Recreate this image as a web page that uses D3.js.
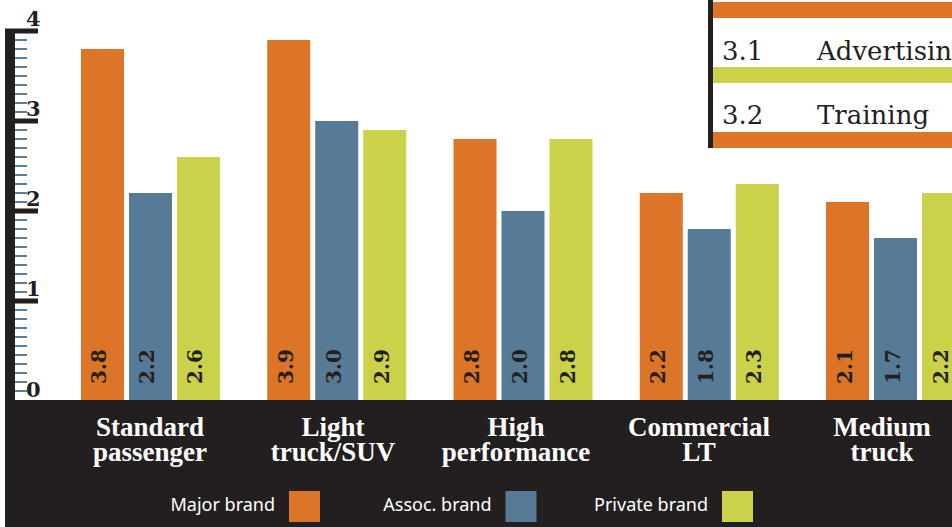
<!DOCTYPE html>
<html>
<head>
<meta charset="utf-8">
<script src="https://cdn.jsdelivr.net/npm/d3@7"></script>
<style>
  html, body { margin: 0; padding: 0; background: #fff; }
  svg { display: block; }
</style>
</head>
<body>
<svg id="chart" width="952" height="527"></svg>
<script>
// Average rating by tire category and brand type
const categories = ["Standard passenger", "Light truck/SUV", "High performance", "Commercial LT", "Medium truck"];
const categoryLines = [["Standard", "passenger"], ["Light", "truck/SUV"], ["High", "performance"], ["Commercial", "LT"], ["Medium", "truck"]];
const series = ["Major brand", "Assoc. brand", "Private brand"];
const majorBrand = [3.8, 3.9, 2.8, 2.2, 2.1];
const assocBrand = [2.2, 3.0, 2.0, 1.8, 1.7];
const privateBrand = [2.6, 2.9, 2.8, 2.3, 2.2];
const seriesColors = ["#dc7527", "#577a96", "#cbd24a"];
const yTicks = [0, 1, 2, 3, 4];
const noteCodes = ["3.1", "3.2"];
const noteItems = ["Advertising", "Training"];

const W = 952, H = 527;
const ink = "#231f20";
const bandTop = 400;
const numFont = "'DejaVu Serif', serif";

const svg = d3.select("#chart");
const seriesValues = [majorBrand, assocBrand, privateBrand];
const rows = categories.map((c, i) => ({
  cat: c,
  lines: categoryLines[i],
  values: series.map((s, j) => ({ series: s, value: seriesValues[j][i] }))
}));

const y = d3.scaleLinear().domain([0, 4]).range([391, 31]);
const x0 = d3.scaleBand().domain(categories).range([81, 965]).paddingInner(0.2539).paddingOuter(0);
const x1 = d3.scaleBand().domain(series).range([0, x0.bandwidth()]).paddingInner(0.104);
const xLabel = d3.scalePoint().domain(categories).range([150, 882]);
const color = d3.scaleOrdinal().domain(series).range(seriesColors);

// Bars
const groups = svg.append("g").selectAll("g").data(rows).join("g")
  .attr("transform", d => `translate(${x0(d.cat)},0)`);

groups.selectAll("rect").data(d => d.values).join("rect")
  .attr("x", d => x1(d.series))
  .attr("y", d => y(d.value))
  .attr("width", x1.bandwidth())
  .attr("height", d => bandTop - y(d.value))
  .attr("fill", d => color(d.series));

groups.selectAll("text").data(d => d.values).join("text")
  .attr("transform", d => `translate(${x1(d.series) + x1.bandwidth() / 2 + 4},384) rotate(-90)`)
  .attr("text-anchor", "start")
  .attr("font-family", numFont)
  .attr("font-weight", "bold")
  .attr("font-size", 20)
  .attr("fill", ink)
  .text(d => d3.format(".1f")(d.value));

// Dark footer band
svg.append("rect")
  .attr("x", 5).attr("y", bandTop)
  .attr("width", W - 5).attr("height", H - bandTop)
  .attr("fill", ink);

// Ruler-style y axis
const axis = svg.append("g");
axis.append("rect")
  .attr("x", 5).attr("y", y(4) - 2.5)
  .attr("width", 10).attr("height", bandTop - y(4) + 2.5)
  .attr("fill", ink);

const minorTicks = d3.range(0, 41).filter(k => k % 10 !== 0 || k === 0).map(k => k / 10);
axis.selectAll("line.minor").data(minorTicks).join("line")
  .attr("class", "minor")
  .attr("x1", 15).attr("x2", 27)
  .attr("y1", d => y(d)).attr("y2", d => y(d))
  .attr("stroke", "#5a7d9a").attr("stroke-width", 2);

axis.selectAll("rect.major").data(yTicks.filter(v => v > 0)).join("rect")
  .attr("class", "major")
  .attr("x", 15).attr("y", d => y(d) - 2.5)
  .attr("width", 23).attr("height", 5)
  .attr("fill", ink);

axis.selectAll("text").data(yTicks).join("text")
  .attr("x", 26)
  .attr("y", d => d === 0 ? bandTop - 3 : y(d) - 5)
  .attr("font-family", numFont)
  .attr("font-weight", "bold")
  .attr("font-size", 21)
  .attr("fill", ink)
  .text(d => d);

// Category labels
const cl = svg.append("g").selectAll("text").data(rows).join("text")
  .attr("text-anchor", "middle")
  .attr("font-family", "'Liberation Serif', serif")
  .attr("font-weight", "bold")
  .attr("font-size", 27)
  .attr("fill", "#fff");
cl.selectAll("tspan").data(d => d.lines.map(l => ({ l, x: xLabel(d.cat) }))).join("tspan")
  .attr("x", d => d.x)
  .attr("y", (d, i) => 436 + i * 25)
  .text(d => d.l);

// Legend
const lx = d3.scalePoint().domain(series).range([289, 722]);
const legend = svg.append("g").selectAll("g").data(series).join("g");
legend.append("rect")
  .attr("x", d => lx(d)).attr("y", 491)
  .attr("width", 31).attr("height", 31)
  .attr("fill", d => color(d));
legend.append("text")
  .attr("x", d => lx(d) - 14).attr("y", 511)
  .attr("text-anchor", "end")
  .attr("font-family", "'Noto Sans', sans-serif")
  .attr("font-size", 18)
  .attr("fill", "#fff")
  .text(d => d);

// Inset list (top right)
const note = svg.append("g");
note.append("rect").attr("x", 708).attr("y", 0).attr("width", W - 708).attr("height", 148).attr("fill", "#fff");
note.append("rect").attr("x", 708).attr("y", 0).attr("width", 5).attr("height", 148).attr("fill", ink);
const stripeColors = [seriesColors[0], seriesColors[2], seriesColors[0]];
note.selectAll("rect.stripe").data(stripeColors).join("rect")
  .attr("class", "stripe")
  .attr("x", 713).attr("y", (d, i) => 2 + i * 65)
  .attr("width", W - 713).attr("height", 16)
  .attr("fill", d => d);
note.selectAll("text.code").data(noteCodes).join("text")
  .attr("class", "code")
  .attr("x", 722).attr("y", (d, i) => 60 + i * 64)
  .attr("font-family", numFont).attr("font-size", 26).attr("fill", ink)
  .text(d => d);
note.selectAll("text.item").data(noteItems).join("text")
  .attr("class", "item")
  .attr("x", 817).attr("y", (d, i) => 60 + i * 64)
  .attr("font-family", numFont).attr("font-size", 26).attr("fill", ink)
  .text(d => d);
</script>
</body>
</html>
